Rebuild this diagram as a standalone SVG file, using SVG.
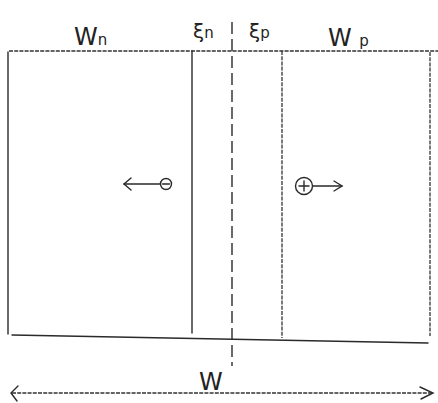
<svg xmlns="http://www.w3.org/2000/svg" width="438" height="403" viewBox="0 0 438 403">
<style>
.ln{stroke:#2a2a2a;stroke-width:1.4;fill:none;stroke-linecap:round}
.dt{stroke:#333;stroke-width:1.3;fill:none;stroke-dasharray:4 1.2}
.dash{stroke:#2a2a2a;stroke-width:1.4;fill:none;stroke-dasharray:12 5}
.lbl{font-family:"DejaVu Sans","Liberation Sans",sans-serif;font-size:24px;fill:#222}
.sub{font-size:15px}
.gr{font-size:20px}
</style>
<rect width="438" height="403" fill="#fff"/>
<g id="connectors">
<line class="dt" x1="9" y1="51" x2="438" y2="51"/>
<line class="ln" x1="8" y1="52" x2="8" y2="334"/>
<line class="ln" x1="192" y1="51" x2="192" y2="333"/>
<line class="dash" x1="232" y1="22" x2="232" y2="366"/>
<line class="dt" x1="282" y1="51" x2="282" y2="338"/>
<line class="dt" x1="430" y1="52" x2="430" y2="336"/>
<line class="ln" x1="12" y1="335" x2="428" y2="343"/>
<line class="dt" x1="12" y1="393" x2="432" y2="393"/>
<path class="ln" d="M18 386 L11 393 L17 401"/>
<path class="ln" d="M420 387 L433 393 L421 399"/>
</g>
<g id="label-Wn"><text class="lbl" x="74" y="45">W<tspan class="sub">n</tspan></text></g>
<g id="label-dn"><text class="lbl gr" x="193" y="38">ξ<tspan class="sub">n</tspan></text></g>
<g id="label-dp"><text class="lbl gr" x="249" y="38">ξ<tspan class="sub">p</tspan></text></g>
<g id="label-Wp"><text class="lbl" x="328" y="46">W <tspan class="sub">p</tspan></text></g>
<g id="label-W"><text class="lbl" x="199" y="390">W</text></g>
<g id="electron">
<circle class="ln" cx="166" cy="184" r="5.5"/>
<line class="ln" x1="162.5" y1="184" x2="169.5" y2="184"/>
<line class="ln" x1="124" y1="184" x2="160" y2="184"/>
<path class="ln" d="M131 178 L124 184 L131 190"/>
</g>
<g id="hole">
<circle class="ln" cx="304" cy="186" r="8.5"/>
<line class="ln" x1="299" y1="186" x2="309" y2="186"/>
<line class="ln" x1="304" y1="181" x2="304" y2="191"/>
<line class="ln" x1="313" y1="186" x2="342" y2="186" stroke-width="2"/>
<path class="ln" d="M334 181 L342 186 L334 191"/>
</g>
</svg>
